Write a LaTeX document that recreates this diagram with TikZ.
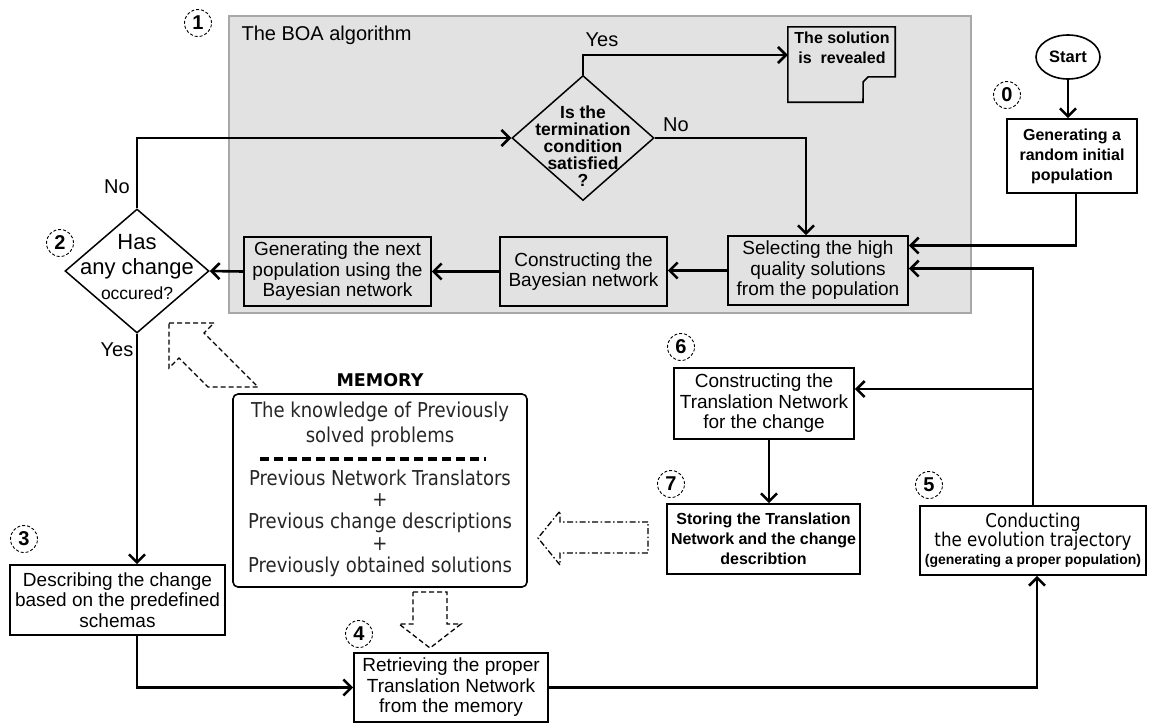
\documentclass[tikz,border=0pt]{standalone}
\usepackage{fontspec}
\setmainfont{Liberation Sans}
\newfontfamily\dvs[FakeStretch=0.88]{DejaVu Sans}
\newfontfamily\dvsb{DejaVu Sans}
\usetikzlibrary{shapes.geometric,arrows.meta}
\definecolor{boagray}{RGB}{226,226,226}
\definecolor{boaedge}{RGB}{168,168,168}
\begin{document}
\begin{tikzpicture}[x=1pt,y=-1pt,
  box/.style={draw, line width=1.6, inner sep=2, align=center, font=\fontsize{19}{20.5}\selectfont},
  bbox/.style={box, font=\bfseries\fontsize{16}{20}\selectfont},
  dia/.style={draw, diamond, line width=1.5, inner sep=0},
  arr/.style={line width=2.6, -{Straight Barb[length=8pt,width=16pt]}},
  lbl/.style={font=\fontsize{20}{20}\selectfont},
  cnum/.style={circle, draw, line width=0.9, dash pattern=on 3pt off 2pt, minimum size=27, inner sep=0, font=\bfseries\fontsize{20}{20}\selectfont},
  hollow/.style={line width=1.3, dash pattern=on 5pt off 3pt},
  memtxt/.style={align=center, text=black!85, font=\dvs\fontsize{20.5}{25}\selectfont}
]
\useasboundingbox (0,0) rectangle (1150,724);

% BOA container
\node[draw=boaedge, fill=boagray, line width=1.5, minimum width=742, minimum height=297, inner sep=0] (boa) at (600,164.5) {};
\node[anchor=west, font=\fontsize{20}{20}\selectfont] (boatitle) at (238,35) {The BOA algorithm};

% circled numbers
\node[cnum] (c1) at (198,23) {1};
\node[cnum] (c0) at (1007,95) {0};
\node[cnum] (c2) at (60,243) {2};
\node[cnum] (c3) at (24,539) {3};
\node[cnum] (c4) at (359,634) {4};
\node[cnum] (c5) at (929,485) {5};
\node[cnum] (c6) at (681,347) {6};
\node[cnum] (c7) at (671,484) {7};

% termination diamond
\node[dia, minimum width=142, minimum height=125] (term) at (583,138) {};
\node[align=center, font=\bfseries\fontsize{17.5}{17}\selectfont] (termtxt) at (583,146) {Is the\\termination\\condition\\satisfied\\?};

% solution (document shape)
\node[inner sep=0, minimum width=107, minimum height=75] (sol) at (841.5,64.5) {};
\draw[line width=1.6] (sol.north west) -- (sol.north east) -- ++(0,50) -- ++(-27,0) -- ++(-5,5) -- (sol.south west -| 863,0) -- (sol.south west) -- cycle;
\node[align=center, font=\bfseries\fontsize{16}{20}\selectfont] (soltxt) at (842,48) {The solution\\is\ \ revealed};

% boxes in BOA
\node[box, minimum width=180, minimum height=69] (select) at (818,270.5) {Selecting the high\\quality solutions\\from the population};
\node[box, minimum width=167, minimum height=69] (cb) at (583.5,271.5) {Constructing the\\Bayesian network};
\node[box, minimum width=187, minimum height=69] (gennext) at (337.5,271.5) {Generating the next\\population using the\\Bayesian network};

% change diamond
\node[dia, minimum width=144, minimum height=124] (change) at (137,271) {};
\node[align=center, font=\fontsize{22}{25}\selectfont] (changetxt) at (137,267) {Has\\any change\\{\fontsize{17.5}{20}\selectfont occured?}};

% start and initial population
\node[draw, ellipse, line width=1.6, minimum width=64, minimum height=44, inner sep=0, font=\bfseries\fontsize{16.5}{16.5}\selectfont] (start) at (1068,57) {Start};
\node[bbox, minimum width=130, minimum height=74] (genrand) at (1072,156) {Generating a\\random initial\\population};

% lower boxes
\node[box, minimum width=180, minimum height=71] (ctn) at (764,403.5) {Constructing the\\Translation Network\\for the change};
\node[bbox, minimum width=193, minimum height=70] (store) at (763.5,539) {Storing the Translation\\Network and the change\\describtion};
\node[box, minimum width=226, minimum height=69, font=\fontsize{19}{18.5}\selectfont] (cond) at (1033,540.5) {{\dvs Conducting}\\{\dvs the evolution trajectory}\\{\bfseries\fontsize{14}{16}\selectfont (generating a proper population)}};
\node[box, minimum width=215, minimum height=70] (desc) at (117.5,600) {Describing the change\\based on the predefined\\schemas};
\node[box, minimum width=194, minimum height=69] (retr) at (451,687.5) {Retrieving the proper\\Translation Network\\from the memory};

% memory
\node[font=\dvsb\bfseries\fontsize{17.5}{17.5}\selectfont] (memlbl) at (380,380) {MEMORY};
\node[draw, rounded corners=5, line width=1.6, minimum width=294, minimum height=193, inner sep=0] (mem) at (380,490.5) {};
\node[memtxt] (memt) at (380,424.5) {The knowledge of Previously\\solved problems};
\draw[line width=3.2, dash pattern=on 9pt off 5pt] (260,459) -- (486,459);
\node[memtxt, font=\dvs\fontsize{20.5}{21.8}\selectfont] (memb) at (380,523) {Previous Network Translators\\+\\Previous change descriptions\\+\\Previously obtained solutions};

% hollow dashed arrows
\draw[hollow] (169,323) -- (214,323) -- (204,333) -- (258,387) -- (208,387) -- (179,358) -- (169,368) -- cycle;
\draw[hollow] (413,592) -- (447,592) -- (447,624) -- (461,624) -- (430,648) -- (399,624) -- (413,624) -- cycle;
\draw[line width=1.3, dash pattern=on 6pt off 2.5pt on 1.5pt off 2.5pt] (648,522) -- (560,522) -- (560,511) -- (538,538) -- (560,565) -- (560,553) -- (648,553) -- cycle;

% connectors
\draw[arr] (start.south) -- (start.south |- genrand.north);
\draw[arr] ([xshift=4pt]genrand.south) |- ([yshift=25pt]select.east);
\draw[arr] (cond.north) |- ([yshift=2pt]select.east);
\draw[arr] (cond.north) |- ([yshift=14.5pt]ctn.east);
\draw[arr] ([xshift=5pt]ctn.south) -- ([xshift=5pt]ctn.south |- store.north);
\draw[arr] (select.west) -- (select.west -| cb.east);
\draw[arr] (cb.west) -- (cb.west -| gennext.east);
\draw[arr] (gennext.west) -- (change.east);
\draw[arr] (change.north) |- (term.west);
\draw[arr] (term.north) |- ([yshift=9.5pt]sol.west);
\draw[arr] (term.east) -| ([xshift=-12pt]select.north);
\draw[arr] (change.south) -- (change.south |- desc.north);
\draw[arr] (change.south |- desc.south) |- (retr.west);
\draw[arr] (retr.east) -| ([xshift=4pt]cond.south);

% labels
\node[lbl] (yes1) at (602,40) {Yes};
\node[lbl] (no1) at (676,125) {No};
\node[lbl] (no2) at (117,187) {No};
\node[lbl] (yes2) at (117,350) {Yes};
\end{tikzpicture}
\end{document}
